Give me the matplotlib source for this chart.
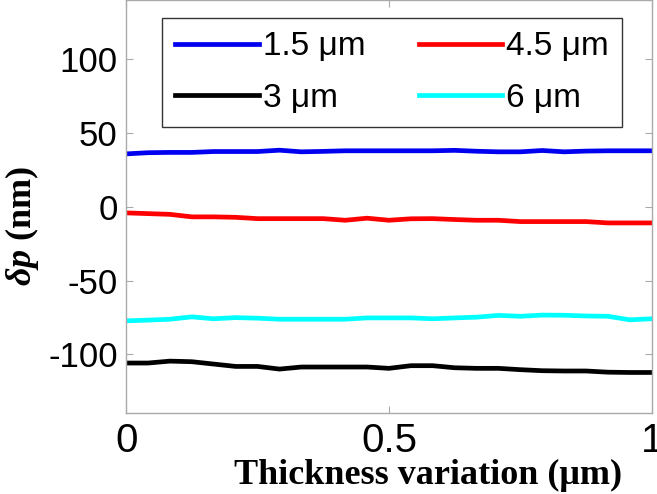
import numpy as np
import matplotlib.pyplot as plt

# tloušťková variace (μm)
x = np.linspace(0, 1, 25)

d15 = [36.0, 36.8, 37.0, 37.0, 37.6, 37.6, 37.6, 38.5, 37.4, 37.7, 38.1, 38.1, 38.1,
       38.1, 38.1, 38.4, 37.8, 37.4, 37.4, 38.3, 37.4, 37.9, 38.1, 38.1, 38.1]
d45 = [-4.0, -4.5, -5.0, -6.7, -6.7, -7.0, -7.9, -7.9, -7.9, -7.9, -9.0, -7.6, -9.0,
       -8.0, -7.9, -8.5, -9.0, -9.0, -9.9, -9.9, -9.9, -9.9, -10.8, -10.8, -10.8]
d3 = [-105.8, -105.8, -104.5, -104.9, -106.5, -108.1, -108.1, -109.9, -108.5, -108.5,
      -108.5, -108.5, -109.4, -107.6, -107.6, -109.0, -109.4, -109.4, -110.3, -111.0,
      -111.2, -111.2, -112.0, -112.2, -112.2]
d6 = [-77.2, -76.7, -76.1, -74.5, -75.8, -75.0, -75.4, -76.1, -76.1, -76.1, -76.1,
      -75.2, -75.2, -75.2, -75.8, -75.2, -74.7, -73.5, -74.1, -73.3, -73.4, -73.9,
      -74.1, -76.5, -75.8]

labels = ['1.5 μm', '3 μm', '4.5 μm', '6 μm']
xticks = [0, 0.5, 1]
xticklabels = ['0', '0.5', '1']
yticks = [-100, -50, 0, 50, 100]

plt.rcParams['font.family'] = ['Liberation Sans', 'DejaVu Sans']
plt.rcParams['mathtext.fontset'] = 'custom'
plt.rcParams['mathtext.rm'] = 'Liberation Serif:bold'
plt.rcParams['mathtext.bfit'] = 'Liberation Serif:italic:bold'
plt.rcParams['mathtext.it'] = 'Liberation Serif:italic:bold'

fig = plt.figure(figsize=(6.57, 4.94), dpi=100)
ax = fig.add_axes([0.192, 0.163, 0.8, 0.836])

lw = 3.4
ax.plot(x, d15, color='#0000f0', lw=lw, label=labels[0])
ax.plot(x, d3, color='black', lw=lw, label=labels[1])
ax.plot(x, d45, color='#ff0000', lw=lw, label=labels[2])
ax.plot(x, d6, color='#00ffff', lw=lw, label=labels[3])

ax.set_xlim(0, 1)
ax.set_ylim(-140, 140)
ax.set_xticks(xticks)
ax.set_xticklabels(xticklabels)
ax.set_yticks(yticks)
ax.set_yticklabels([str(v) for v in yticks])
ax.tick_params(direction='in', length=5, color='#aaaaaa',
               top=True, right=True)
ax.tick_params(axis='y', labelsize=25, pad=6)
ax.tick_params(axis='x', labelsize=29, pad=6)
for s in ax.spines.values():
    s.set_color('#aaaaaa')
    s.set_linewidth(1)

ax.set_xlabel('Thickness variation (μm)', family='Liberation Serif', fontweight='bold',
              fontsize=26)
ax.xaxis.set_label_coords(0.574, -0.15)
ax.xaxis.label.set_va('center')
ax.set_ylabel(r'$\mathit{\delta p}$ (nm)', family='Liberation Serif',
              fontweight='bold', fontsize=26)
ax.yaxis.set_label_coords(-0.198, 0.455)
ax.yaxis.label.set_va('center')

leg = ax.legend(ncol=2, loc='upper center', bbox_to_anchor=(0.506, 0.958),
                fontsize=24, frameon=True, fancybox=False, handlelength=2.5,
                handletextpad=0.12, columnspacing=1.6, borderpad=0.4,
                labelspacing=0.62, borderaxespad=0)
leg.get_frame().set_edgecolor('black')
leg.get_frame().set_linewidth(1)

fig.savefig('out.png', dpi=100)
